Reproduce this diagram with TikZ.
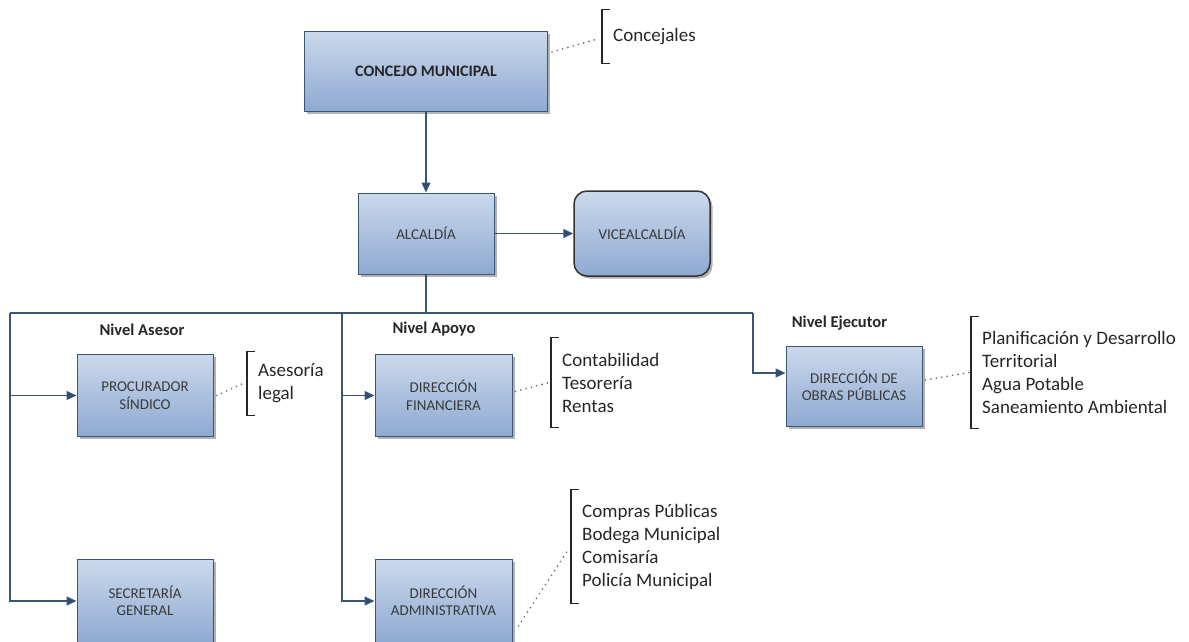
\documentclass[tikz,border=0pt]{standalone}
\usepackage{fontspec}
\setmainfont{Carlito}
\usetikzlibrary{arrows.meta,shadows,calc}
\definecolor{boxline}{HTML}{3C5675}
\definecolor{boxtop}{HTML}{CBD9EC}
\definecolor{boxbot}{HTML}{8EA9D1}
\definecolor{boxtext}{HTML}{3A3A3A}
\definecolor{lnc}{HTML}{3A5574}
\definecolor{tipc}{HTML}{2C4D7A}
\definecolor{listtext}{HTML}{262626}
\definecolor{dotc}{HTML}{6E6E6E}
\begin{document}
\begin{tikzpicture}[x=1pt,y=-1pt,
  box/.style={draw=boxline, line width=1pt, top color=boxtop, bottom color=boxbot,
    minimum width=136pt, minimum height=82pt, inner sep=0pt, align=center,
    font=\fontsize{15}{17.5}\selectfont, text=boxtext,
    drop shadow={shadow xshift=2.5pt, shadow yshift=-2.5pt, opacity=0.3, fill=black}},
  conn/.style={draw=lnc, line width=1.2pt},
  arr/.style={conn, -{Triangle[length=10pt,width=9pt,fill=tipc]}},
  lvl/.style={font=\bfseries\fontsize{16.5}{19}\selectfont, text=listtext},
  list/.style={anchor=west, align=left, inner xsep=11pt, inner ysep=0pt,
    font=\fontsize{19}{23}\selectfont, text=listtext},
  brk/.style={draw=black!85, line width=1.3pt},
  dots/.style={draw=dotc, line width=1.9pt, line cap=round, dash pattern=on 0pt off 5.5pt}
]
\useasboundingbox (0,0) rectangle (1189,641);

% boxes
\node[box, minimum width=243pt, minimum height=80pt, font=\bfseries\fontsize{16}{19}\selectfont, text=listtext] (concejo) at (426,71) {CONCEJO MUNICIPAL};
\node[box, minimum height=81pt] (alcaldia) at (426,233.5) {ALCALDÍA};
\node[box, minimum height=85pt, rounded corners=13pt, draw=black!80, line width=1.5pt] (vice) at (642,233.5) {VICEALCALDÍA};
\node[box] (procurador) at (145,395.5) {PROCURADOR\\SÍNDICO};
\node[box, minimum width=137pt] (financiera) at (443.5,395.5) {DIRECCIÓN\\FINANCIERA};
\node[box, minimum height=80pt] (obras) at (854,386) {DIRECCIÓN DE\\OBRAS PÚBLICAS};
\node[box, minimum height=84pt] (secretaria) at (145,601) {SECRETARÍA\\GENERAL};
\node[box, minimum width=137pt, minimum height=84pt] (admin) at (443.5,601) {DIRECCIÓN\\ADMINISTRATIVA};

% level labels
\node[lvl] (lasesor) at (142,330) {Nivel Asesor};
\node[lvl] (lapoyo) at (434,329) {Nivel Apoyo};
\node[lvl] (lejec) at (839.5,323) {Nivel Ejecutor};

% bracket lists
\node[list, minimum height=53pt] (conc) at (602,36.5) {Concejales};
\node[list, minimum height=63pt] (ases) at (247,383.5) {Asesoría\\legal};
\node[list, minimum height=89pt] (fin) at (551,382.5) {Contabilidad\\Tesorería\\Rentas};
\node[list, minimum height=111pt] (obr) at (971,372.5) {Planificación y Desarrollo\\Territorial\\Agua Potable\\Saneamiento Ambiental};
\node[list, minimum height=113pt] (adm) at (571,546.5) {Compras Públicas\\Bodega Municipal\\Comisaría\\Policía Municipal};
\foreach \n in {conc,ases,fin,obr,adm}{
  \draw[brk] ([xshift=8pt]\n.north west) -- (\n.north west) -- (\n.south west) -- ([xshift=8pt]\n.south west);
}

% dotted links
\draw[dots] ([xshift=4pt,yshift=19pt]concejo.east) -- ([xshift=-3pt,yshift=-2pt]conc.west);
\draw[dots] ([xshift=3pt]procurador.east) -- ([xshift=-4pt]ases.west);
\draw[dots] ([xshift=3pt,yshift=4pt]financiera.east) -- ([xshift=-2pt]fin.west);
\draw[dots] ([xshift=3pt,yshift=6pt]obras.east) -- ([xshift=-2pt]obr.west);
\draw[dots] ([xshift=6pt,yshift=-25pt]admin.east) -- ([xshift=-4pt,yshift=-5pt]adm.west);

% connectors
\coordinate (bus) at (426,313);
\coordinate (busL) at (10,313);
\coordinate (busM) at (342,313);
\coordinate (busR) at (753,313);
\draw[arr] (concejo.south) -- (alcaldia.north);
\draw[arr] (alcaldia.east) -- (vice.west);
\draw[conn] (alcaldia.south) -- (bus);
\draw[conn] (busL) -- (busR);
\draw[arr] (busL) |- (secretaria.west);
\draw[arr] (busL |- procurador.west) -- (procurador.west);
\draw[arr] (busM) |- (admin.west);
\draw[arr] (busM |- financiera.west) -- (financiera.west);
\draw[arr] (busR) |- ([yshift=13pt]obras.west);
\end{tikzpicture}
\end{document}
